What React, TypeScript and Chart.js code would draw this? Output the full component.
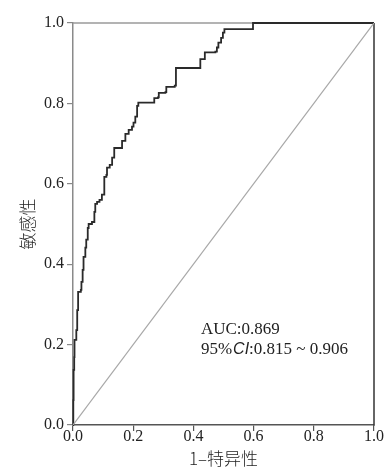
import { useEffect, useRef } from "react";
import { Chart, registerables } from "chart.js";

Chart.register(...registerables);

// ROC curve (1 - specificity, sensitivity)
const fpr = [
  0, 0.001, 0.002, 0.004, 0.005, 0.011, 0.014, 0.017, 0.026, 0.028, 0.032, 0.035, 0.041, 0.044,
  0.049, 0.052, 0.063, 0.071, 0.074, 0.08, 0.088, 0.096, 0.104, 0.104, 0.111, 0.113, 0.122, 0.13,
  0.137, 0.137, 0.157, 0.163, 0.174, 0.185, 0.196, 0.201, 0.207, 0.213, 0.217, 0.267, 0.27, 0.282,
  0.285, 0.307, 0.31, 0.338, 0.342, 0.42, 0.423, 0.436, 0.438, 0.473, 0.478, 0.483, 0.492, 0.498,
  0.503, 0.597, 0.598, 1,
];
const tpr = [
  0, 0.062, 0.137, 0.169, 0.212, 0.236, 0.286, 0.331, 0.336, 0.356, 0.386, 0.418, 0.441, 0.461,
  0.49, 0.5, 0.505, 0.53, 0.55, 0.555, 0.56, 0.573, 0.577, 0.617, 0.622, 0.64, 0.647, 0.665,
  0.685, 0.689, 0.689, 0.707, 0.724, 0.734, 0.742, 0.752, 0.767, 0.794, 0.802, 0.802, 0.813, 0.815,
  0.826, 0.828, 0.841, 0.844, 0.888, 0.888, 0.91, 0.91, 0.927, 0.929, 0.939, 0.951, 0.963, 0.976,
  0.985, 0.985, 1, 1,
];
const diagX = [0, 1];
const diagY = [0, 1];
const axisTicks = [0, 0.2, 0.4, 0.6, 0.8, 1.0];
const xTitle = "1\u2013特异性";
const yTitle = "敏感性";
const aucText = "AUC:0.869";
const ciParts = ["95%", "CI", ":0.815 ~ 0.906"];
const annotX = 0.425;
const annotY = [0.2365, 0.187];

const SERIF = "'Liberation Serif', 'DejaVu Serif', serif";
const CJK = "'Noto Sans CJK SC', sans-serif";

export default function App() {
  const ref = useRef<HTMLCanvasElement>(null);

  useEffect(() => {
    if (!ref.current) return;

    const framePlugin = {
      id: "frame",
      beforeDatasetsDraw(chart: any) {
        const { ctx, chartArea: a } = chart;
        ctx.save();
        ctx.lineWidth = 1.5;
        ctx.strokeStyle = "#9a9a9a";
        ctx.beginPath();
        ctx.moveTo(a.left, a.top);
        ctx.lineTo(a.right, a.top);
        ctx.stroke();
        ctx.strokeStyle = "#333333";
        ctx.beginPath();
        ctx.moveTo(a.right, a.top);
        ctx.lineTo(a.right, a.bottom + 0.75);
        ctx.stroke();
        ctx.restore();
      },
      afterDraw(chart: any) {
        const { ctx } = chart;
        const xs = chart.scales.x;
        const ys = chart.scales.y;
        const x0 = xs.getPixelForValue(annotX);
        ctx.save();
        ctx.fillStyle = "#222";
        ctx.textBaseline = "middle";
        ctx.textAlign = "left";
        ctx.font = `17px ${SERIF}`;
        ctx.fillText(aucText, x0, ys.getPixelForValue(annotY[0]));
        const y1 = ys.getPixelForValue(annotY[1]);
        let x = x0;
        ctx.font = `17px ${SERIF}`;
        ctx.fillText(ciParts[0], x, y1);
        x += ctx.measureText(ciParts[0]).width + 1;
        ctx.font = `italic 16px 'Liberation Sans', Arial, sans-serif`;
        ctx.fillText(ciParts[1], x, y1);
        x += ctx.measureText(ciParts[1]).width;
        ctx.font = `17px ${SERIF}`;
        ctx.fillText(ciParts[2], x, y1);
        ctx.restore();
      },
    };

    const chart = new Chart(ref.current, {
      type: "line",
      data: {
        datasets: [
          {
            data: diagX.map((v, i) => ({ x: v, y: diagY[i] })),
            borderColor: "#a8a8a8",
            borderWidth: 1.2,
            pointRadius: 0,
            tension: 0,
          },
          {
            data: fpr.map((v, i) => ({ x: v, y: tpr[i] })),
            borderColor: "#2a2a2a",
            borderWidth: 1.8,
            pointRadius: 0,
            stepped: "before",
            clip: 4,
          },
        ],
      },
      options: {
        animation: false,
        responsive: false,
        devicePixelRatio: 1,
        layout: { padding: { left: 0, top: 23, right: 17, bottom: 0 } },
        plugins: { legend: { display: false }, tooltip: { enabled: false } },
        scales: {
          x: {
            type: "linear",
            min: 0,
            max: 1,
            afterBuildTicks: (s: any) => {
              s.ticks = axisTicks.map((v) => ({ value: v }));
            },
            afterFit: (s: any) => {
              s.height = 46;
            },
            ticks: {
              callback: (v: any) => Number(v).toFixed(1),
              color: "#222",
              font: { family: SERIF, size: 16 },
              padding: -4,
              maxRotation: 0,
              autoSkip: false,
            },
            grid: {
              display: true,
              drawOnChartArea: false,
              drawTicks: true,
              tickLength: 6,
              color: "#555",
              lineWidth: 1.2,
            },
            border: { display: true, color: "#555", width: 1.5 },
            title: {
              display: true,
              text: xTitle,
              color: "#222",
              font: { family: CJK, size: 17, weight: "300" },
              padding: { top: 0, bottom: 2 },
            },
          },
          y: {
            type: "linear",
            min: 0,
            max: 1,
            afterBuildTicks: (s: any) => {
              s.ticks = axisTicks.map((v) => ({ value: v }));
            },
            afterFit: (s: any) => {
              s.width = 73;
            },
            ticks: {
              callback: (v: any) => Number(v).toFixed(1),
              color: "#222",
              font: { family: SERIF, size: 16 },
              padding: 3,
              autoSkip: false,
            },
            grid: {
              display: true,
              drawOnChartArea: false,
              drawTicks: true,
              tickLength: 6,
              color: "#888",
              lineWidth: 1.2,
            },
            border: { display: true, color: "#8a8a8a", width: 1.5 },
            title: {
              display: true,
              text: yTitle,
              color: "#222",
              font: { family: CJK, size: 17, weight: "300" },
              padding: { top: 17, bottom: 0 },
            },
          },
        },
      },
      plugins: [framePlugin],
    } as any);

    return () => chart.destroy();
  }, []);

  return (
    <canvas
      ref={ref}
      width={391}
      height={471}
      style={{ position: "absolute", left: 0, top: 0, display: "block" }}
    />
  );
}
